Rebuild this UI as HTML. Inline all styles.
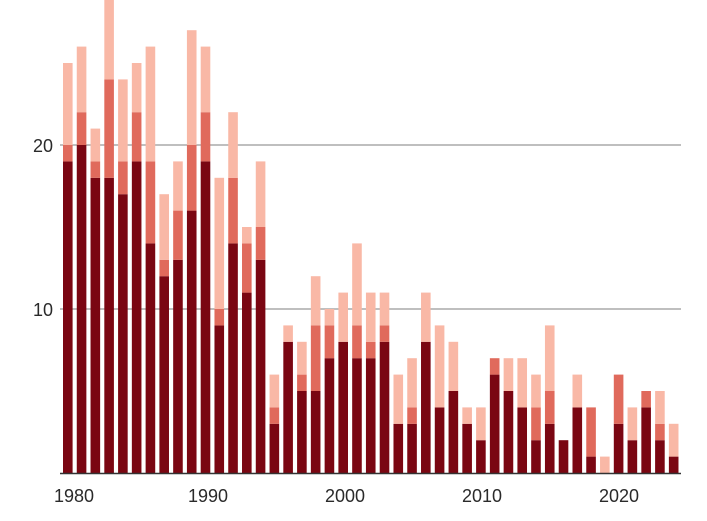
<!DOCTYPE html>
<html><head><meta charset="utf-8"><style>body{margin:0;background:#fff}svg{display:block}text{font-family:"Liberation Sans",sans-serif;font-size:18px;fill:#2a2a2a}</style></head>
<body><svg width="707" height="521" xmlns="http://www.w3.org/2000/svg">
<line x1="60" y1="145" x2="681" y2="145" stroke="#999" stroke-width="1.2"/>
<line x1="60" y1="309" x2="681" y2="309" stroke="#999" stroke-width="1.2"/>
<text x="53" y="152" text-anchor="end">20</text>
<text x="53" y="316" text-anchor="end">10</text>
<g id="bars"></g>
<line x1="60" y1="473.5" x2="681" y2="473.5" stroke="#333" stroke-width="1.5"/>
<text x="74" y="502" text-anchor="middle">1980</text>
<text x="208" y="502" text-anchor="middle">1990</text>
<text x="345" y="502" text-anchor="middle">2000</text>
<text x="482" y="502" text-anchor="middle">2010</text>
<text x="619" y="502" text-anchor="middle">2020</text>
</svg>
<script>
var d=[[19,20,25],[20,22,26],[18,19,21],[18,24,29],[17,19,24],[19,22,25],[14,19,26],[12,13,17],[13,16,19],[16,20,27],[19,22,26],[9,10,18],[14,18,22],[11,14,15],[13,15,19],[3,4,6],[8,8,9],[5,6,8],[5,9,12],[7,9,10],[8,8,11],[7,9,14],[7,8,11],[8,9,11],[3,3,6],[3,4,7],[8,8,11],[4,4,9],[5,5,8],[3,3,4],[2,2,4],[6,7,7],[5,5,7],[4,4,7],[2,4,6],[3,5,9],[2,2,2],[4,4,6],[1,4,4],[0,0,1],[3,6,6],[2,2,4],[4,5,5],[2,3,5],[1,1,3]];
var g=document.getElementById('bars'),s='',u=16.4,z=473;
d.forEach(function(v,i){var x=63+i*13.77,w=9.6;
var c=['#7a0612','#e06a5c','#f9b8a6'],p=0;
for(var k=0;k<3;k++){var h=(v[k]-p)*u;if(h>0)s+='<rect x="'+x+'" y="'+(z-v[k]*u)+'" width="'+w+'" height="'+h+'" fill="'+c[k]+'"/>';p=v[k];}});
g.innerHTML=s;
</script>
</body></html>
